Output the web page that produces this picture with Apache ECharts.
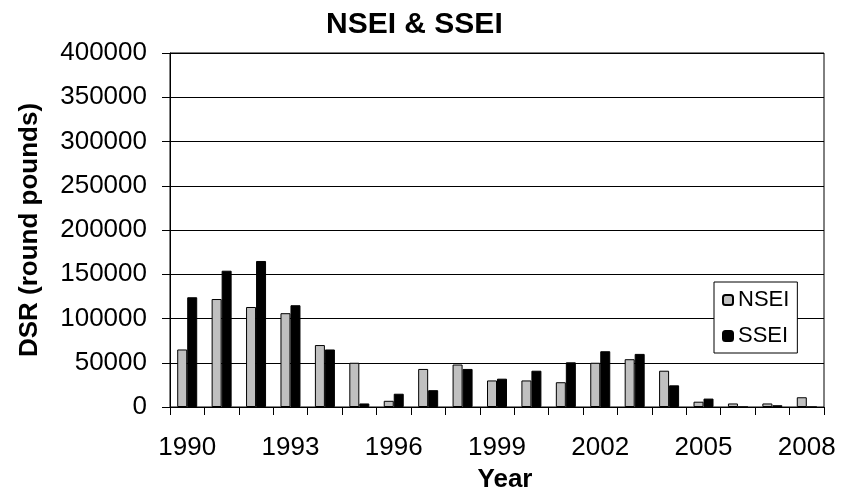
<!DOCTYPE html>
<html>
<head>
<meta charset="utf-8">
<script src="https://cdn.jsdelivr.net/npm/echarts@6/dist/echarts.min.js"></script>
<style>
  html, body { margin: 0; padding: 0; background: #fff; }
  #chart { width: 851px; height: 493px; }
</style>
</head>
<body>
<div id="chart"></div>
<script>
// Years on the category axis
const years = ['1990','1991','1992','1993','1994','1995','1996','1997','1998','1999',
               '2000','2001','2002','2003','2004','2005','2006','2007','2008'];

// DSR (round pounds) per year
const nsei = [65000, 122000, 113000, 106000, 70000, 50000, 7000, 43000, 48000, 30000,
              30000, 28000, 50000, 54000, 41000, 6000, 4000, 4000, 11000];
const ssei = [124000, 154000, 165000, 115000, 65000, 4000, 15000, 19000, 43000, 32000,
              41000, 50500, 63000, 60000, 24500, 9500, 0, 2000, 0];

// Value axis ticks
const yMin = 0, yMax = 400000, yStep = 50000;

const font = 'Liberation Sans, Arial, sans-serif';

const chart = echarts.init(document.getElementById('chart'));
chart.setOption({
  animation: false,
  backgroundColor: '#fff',
  textStyle: { fontFamily: font, color: '#000' },
  title: {
    text: 'NSEI & SSEI',
    left: 321,
    top: 5,
    textStyle: { fontFamily: font, fontSize: 30, fontWeight: 'bold', color: '#000' }
  },
  legend: {
    orient: 'vertical',
    left: 714,
    top: 282,
    padding: [7, 8, 6, 8],
    itemWidth: 10,
    itemHeight: 10,
    itemGap: 14,
    backgroundColor: '#fff',
    borderColor: '#000',
    borderWidth: 1,
    textStyle: { fontFamily: font, fontSize: 22, lineHeight: 22, color: '#000' },
    data: ['NSEI', 'SSEI']
  },
  grid: {
    left: 170, right: 27, top: 53, bottom: 86,
    outerBoundsMode: 'none',
    containLabel: false,
    show: true, borderColor: '#000', borderWidth: 1, backgroundColor: 'transparent'
  },
  xAxis: {
    type: 'category',
    data: years,
    boundaryGap: true,
    name: 'Year',
    nameLocation: 'middle',
    nameGap: 60,
    nameTextStyle: { fontFamily: font, fontSize: 26, fontWeight: 'bold', color: '#000', padding: [0, 0, 0, 16] },
    axisLine: { lineStyle: { color: '#000', width: 1 } },
    axisTick: { show: true, interval: 0, length: 8, lineStyle: { color: '#000' } },
    axisLabel: { interval: 2, fontFamily: font, fontSize: 26, color: '#000', margin: 28 },
    splitLine: { show: false }
  },
  yAxis: {
    type: 'value',
    min: yMin, max: yMax, interval: yStep,
    name: 'DSR (round pounds)',
    nameLocation: 'middle',
    nameGap: 127,
    nameTextStyle: { fontFamily: font, fontSize: 26, fontWeight: 'bold', color: '#000' },
    axisLine: { show: true, lineStyle: { color: '#000', width: 1 } },
    axisTick: { show: true, length: 8, lineStyle: { color: '#000' } },
    axisLabel: {
      fontFamily: font, fontSize: 26, color: '#000', margin: 23,
      formatter: v => String(v)
    },
    splitLine: { show: true, lineStyle: { color: '#000', width: 1 } }
  },
  series: [
    {
      name: 'NSEI', type: 'bar', data: nsei,
      barWidth: 10, barGap: '0%',
      itemStyle: { color: '#c0c0c0', borderColor: '#000', borderWidth: 1 }
    },
    {
      name: 'SSEI', type: 'bar', data: ssei,
      barWidth: 10, barGap: '0%',
      itemStyle: { color: '#000', borderColor: '#000', borderWidth: 1 }
    }
  ]
});
</script>
</body>
</html>
